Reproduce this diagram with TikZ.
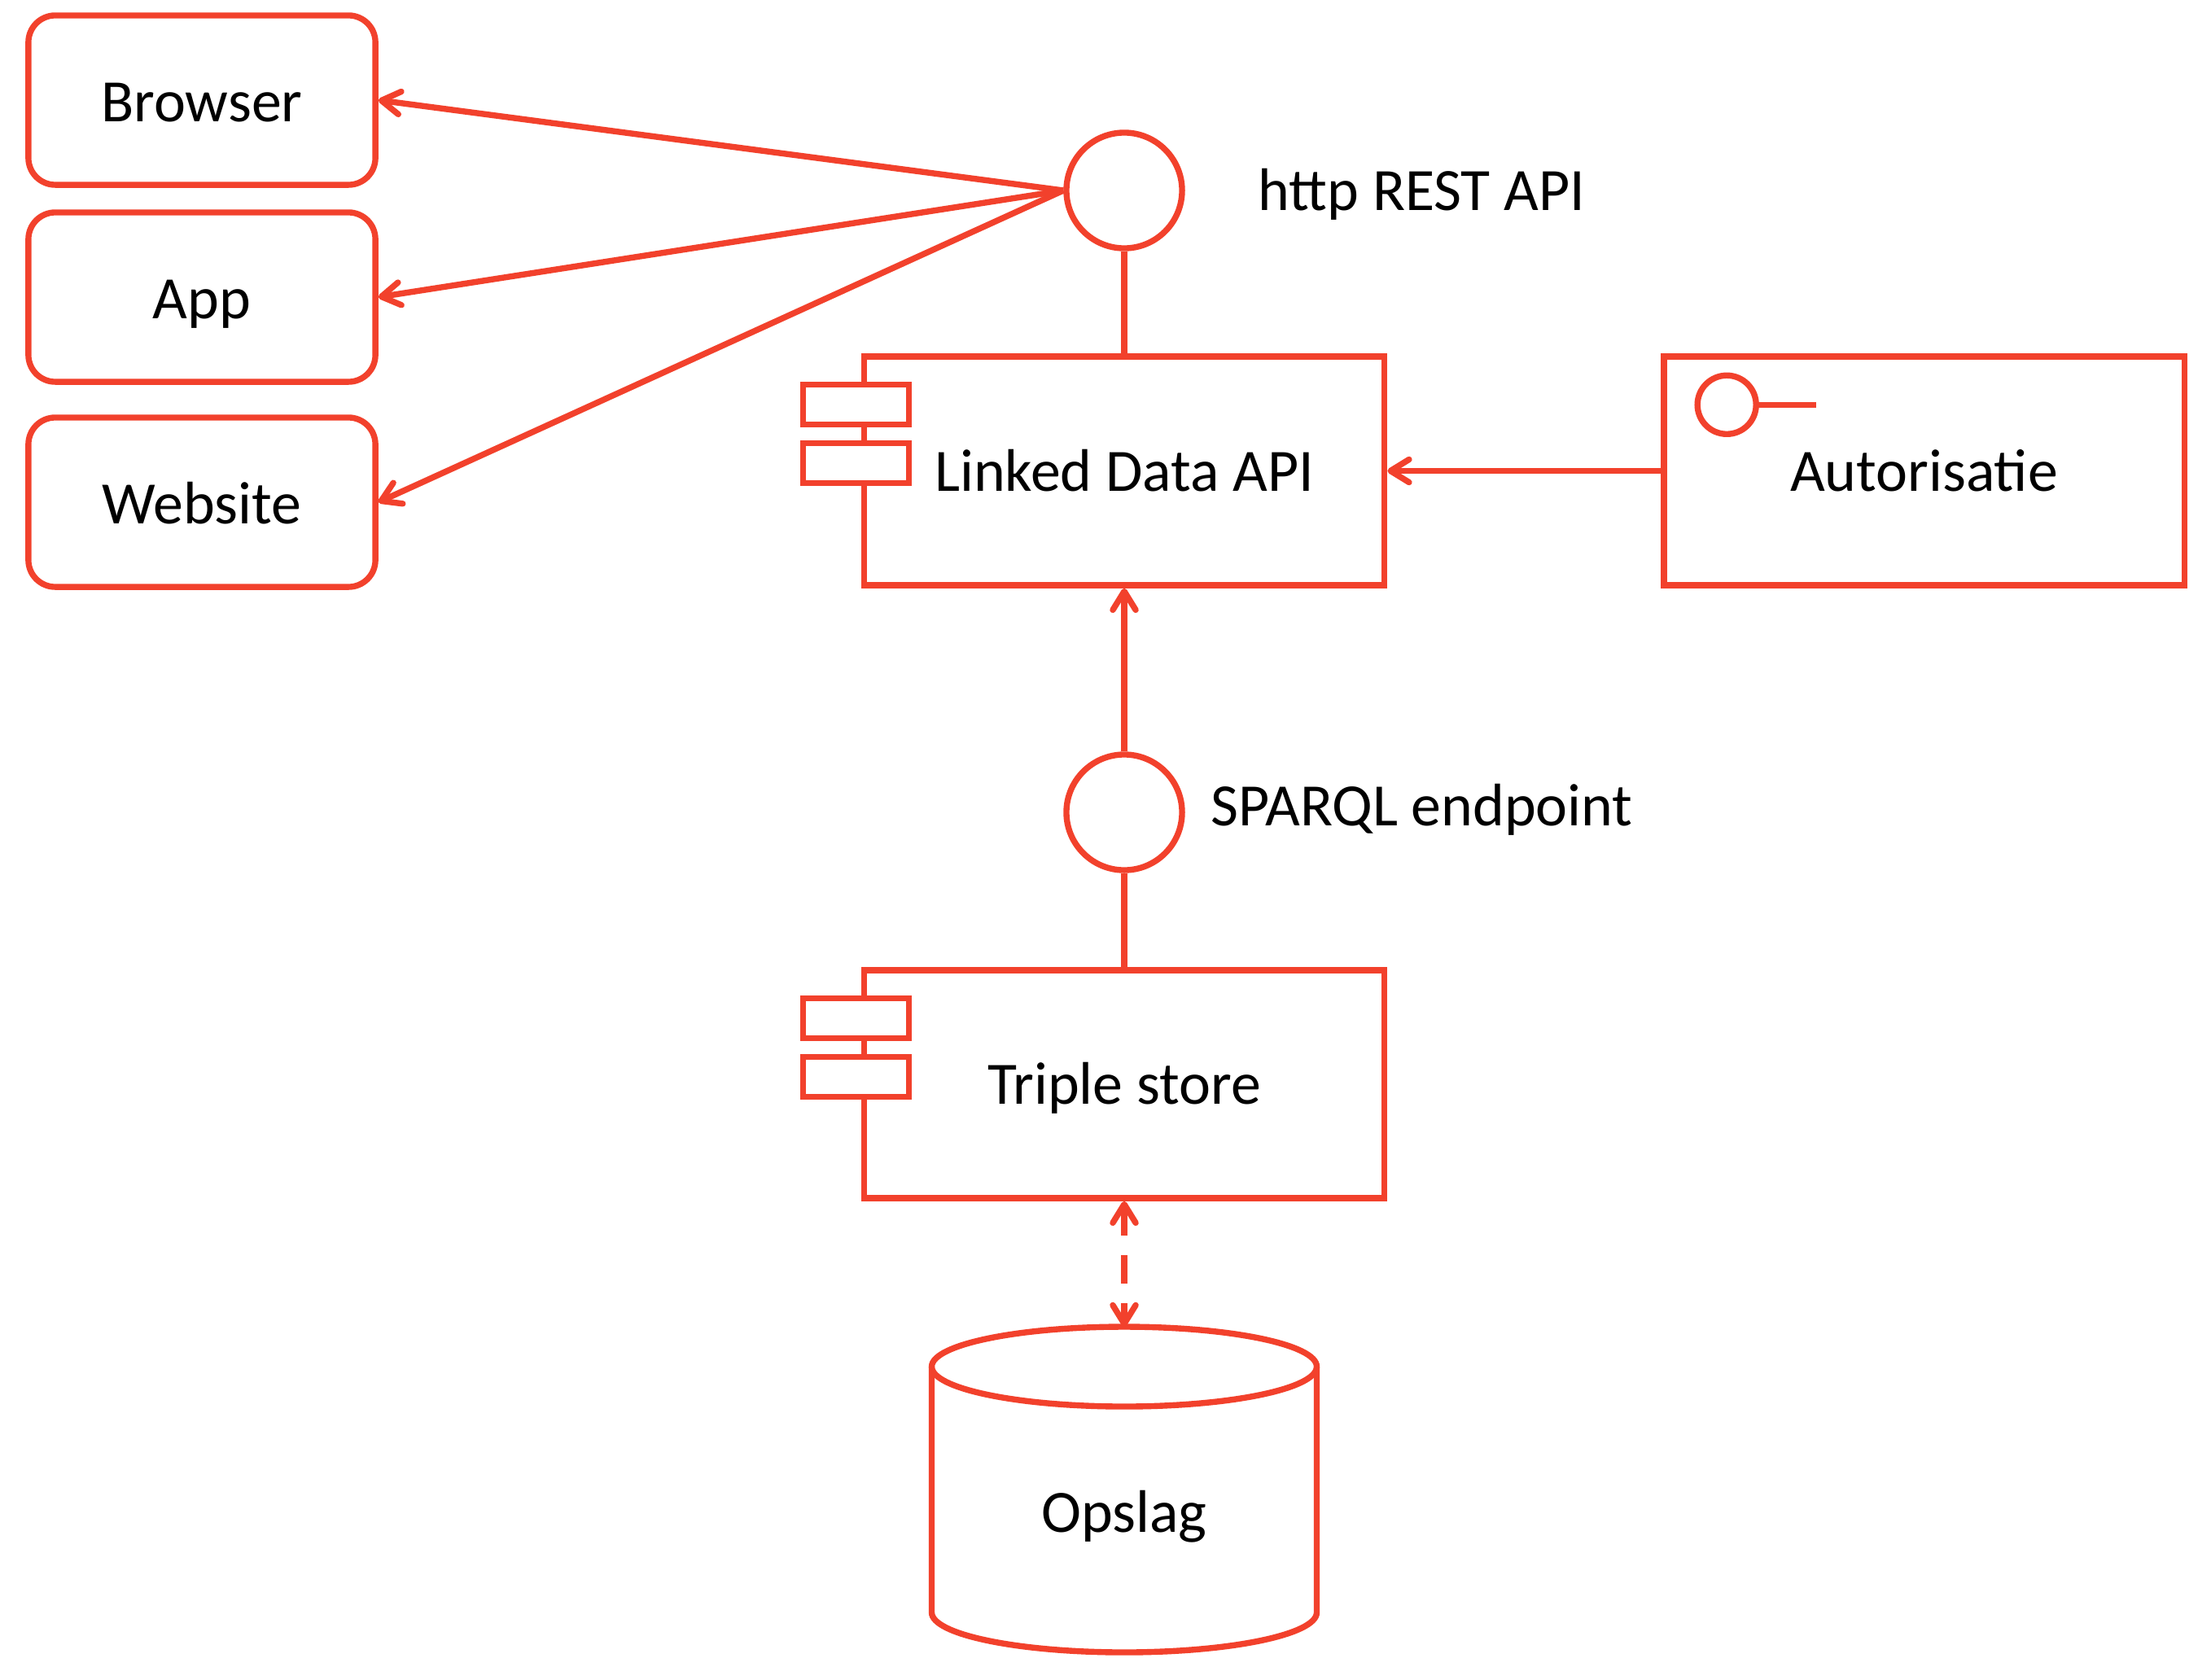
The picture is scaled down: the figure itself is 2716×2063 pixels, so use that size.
\documentclass[tikz,border=0pt]{standalone}
\usepackage{fontspec}
\setmainfont{Carlito}
\usetikzlibrary{arrows.meta}
\definecolor{uml}{HTML}{F2412C}
\begin{document}
\begin{tikzpicture}[x=0.01cm,y=0.01cm,
  line width=2.1pt,
  every node/.style={font=\fontsize{21}{25}\selectfont},
  client/.style={draw=uml, rounded corners=0.33cm, minimum width=4.26cm, minimum height=2.08cm, inner sep=0, text height=14.8pt, text depth=0pt},
  iface/.style={draw=uml, circle, minimum size=1.42cm, inner sep=0},
  comp/.style={draw=uml, minimum width=6.39cm, minimum height=2.81cm, inner sep=0, text height=14.2pt, text depth=0pt},
  tab/.style={draw=uml, fill=white, minimum width=1.30cm, minimum height=0.49cm, inner sep=0},
  barb/.tip={Straight Barb[length=6.5pt,width=8pt,round]},
  arr/.style={draw=uml, -barb, line join=round},
  link/.style={draw=uml},
  lbl/.style={anchor=base west, inner sep=0}
]
\fill[white] (0,0) rectangle (2716,-2063);
\useasboundingbox (0,0) rectangle (2716,-2063);

% clients
\node[client] (browser) at (248,-123) {Browser};
\node[client] (app) at (248,-365) {App};
\node[client] (website) at (248,-617) {Website};

% interfaces
\node[iface] (http) at (1381,-234) {};
\node[lbl] (httplbl) at (1542,-258) {http REST API};
\node[iface] (sparql) at (1381,-998) {};
\node[lbl] (sparqllbl) at (1484,-1014) {SPARQL endpoint};

% components
\node[comp] (lda) at (1381,-578.5) {Linked Data API};
\node[tab] (ldat1) at ([xshift=-0.06cm,yshift=-0.625cm]lda.north west) {};
\node[tab] (ldat2) at ([xshift=-0.06cm,yshift=-1.345cm]lda.north west) {};

\node[comp] (aut) at (2363.5,-578.5) {Autorisatie};
\node[draw=uml, circle, minimum size=0.72cm, inner sep=0] (auticon) at ([xshift=0.81cm,yshift=-0.63cm]aut.north west) {};
\coordinate (auticonend) at ([xshift=0.70cm]auticon.east);
\draw[link] (auticon.east) -- (auticonend);

\node[comp, minimum height=2.80cm] (ts) at (1381,-1332) {Triple store};
\node[tab] (tst1) at ([xshift=-0.06cm,yshift=-0.625cm]ts.north west) {};
\node[tab] (tst2) at ([xshift=-0.06cm,yshift=-1.345cm]ts.north west) {};

% storage cylinder
\draw[uml, fill=white] (1144.5,-1679) -- (1144.5,-1981)
  arc[start angle=180, end angle=360, x radius=236.5, y radius=49]
  -- (1617.5,-1679);
\draw[uml] (1381,-1679) ellipse[x radius=236.5, y radius=49];
\node[anchor=base, inner sep=0] (opslag) at (1381,-1882) {Opslag};
\coordinate (opslagtop) at (1381,-1630);

% connectors
\draw[arr] (http.west) -- (browser.east);
\draw[arr] (http.west) -- (app.east);
\draw[arr] (http.west) -- (website.east);
\draw[link] (http.south) -- (lda.north);
\draw[arr] (aut.west) -- (lda.east);
\draw[arr] (sparql.north) -- (lda.south);
\draw[link] (ts.north) -- (sparql.south);
\draw[draw=uml, barb-barb, line join=round, dash pattern=on 10pt off 6.8pt] (ts.south) -- (opslagtop);
\end{tikzpicture}
\end{document}
